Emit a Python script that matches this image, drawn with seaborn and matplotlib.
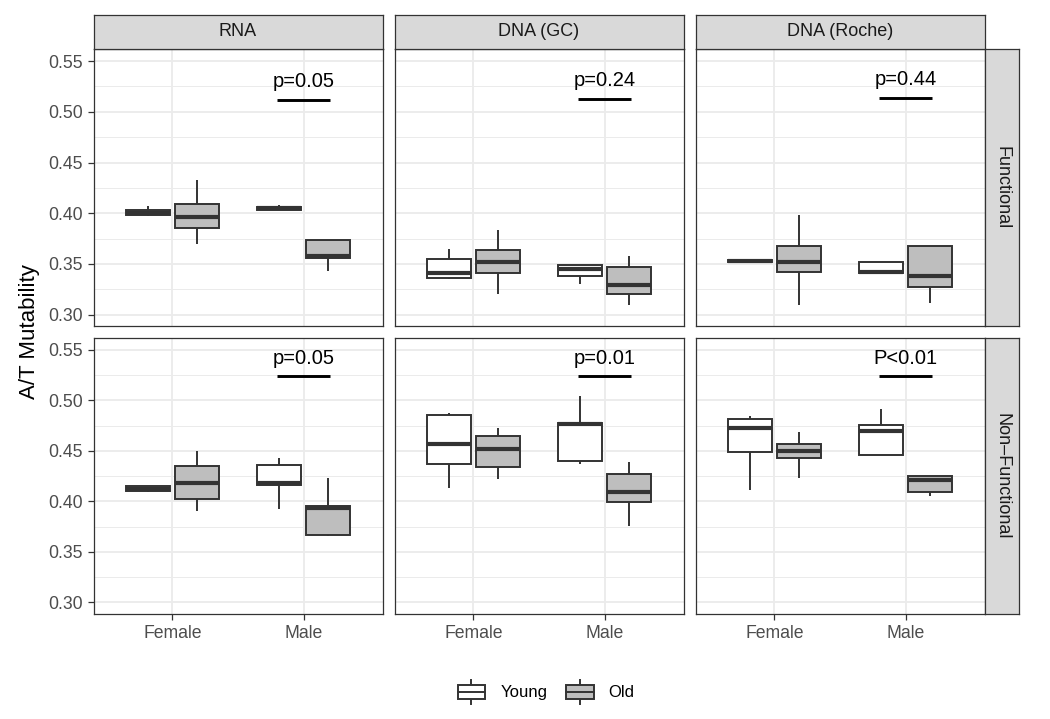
import numpy as np
import pandas as pd
import seaborn as sns
import matplotlib
matplotlib.use("Agg")
import matplotlib.pyplot as plt
from matplotlib.legend_handler import HandlerBase
from matplotlib.patches import Rectangle
from matplotlib.lines import Line2D

plt.rcParams['font.family'] = ['Liberation Sans', 'DejaVu Sans']

# ---------------- data ----------------
sources = ['RNA', 'DNA (GC)', 'DNA (Roche)']
functionality = ['Functional', 'Non–Functional']
sexes = ['Female', 'Male']
ages = ['Young', 'Old']

# five-number summaries (min, q1, median, q3, max)
# group order: Female-Young, Female-Old, Male-Young, Male-Old
rna_functional = [[0.397, 0.398, 0.400, 0.403, 0.407],
                  [0.370, 0.385, 0.3965, 0.409, 0.433],
                  [0.403, 0.403, 0.405, 0.406, 0.408],
                  [0.3425, 0.356, 0.358, 0.374, 0.374]]
dna_gc_functional = [[0.335, 0.3356, 0.341, 0.355, 0.365],
                     [0.3205, 0.3405, 0.352, 0.3635, 0.383],
                     [0.330, 0.338, 0.3445, 0.349, 0.349],
                     [0.309, 0.320, 0.329, 0.347, 0.3576]]
roche_functional = [[0.352, 0.352, 0.353, 0.354, 0.354],
                    [0.3096, 0.3418, 0.352, 0.3675, 0.3978],
                    [0.3405, 0.3405, 0.3415, 0.3517, 0.3517],
                    [0.3116, 0.327, 0.3378, 0.3675, 0.3675]]
rna_nonfunctional = [[0.409, 0.410, 0.4117, 0.415, 0.415],
                     [0.390, 0.4025, 0.4186, 0.4347, 0.4502],
                     [0.3926, 0.4163, 0.4183, 0.436, 0.4426],
                     [0.366, 0.3669, 0.3932, 0.3949, 0.4232]]
dna_gc_nonfunctional = [[0.4133, 0.4367, 0.4568, 0.4858, 0.4877],
                        [0.4225, 0.4337, 0.4519, 0.4647, 0.4722],
                        [0.4373, 0.440, 0.4769, 0.4776, 0.5045],
                        [0.3758, 0.3995, 0.4094, 0.4268, 0.4393]]
roche_nonfunctional = [[0.4107, 0.4492, 0.4722, 0.4811, 0.4845],
                       [0.4232, 0.4426, 0.4495, 0.4568, 0.4687],
                       [0.4456, 0.4456, 0.4693, 0.4752, 0.4914],
                       [0.405, 0.4094, 0.4208, 0.4255, 0.4255]]

p_labels_functional = ['p=0.05', 'p=0.24', 'p=0.44']
p_labels_nonfunctional = ['p=0.05', 'p=0.01', 'P<0.01']
p_y_functional = [0.512, 0.513, 0.514]
p_y_nonfunctional = [0.524, 0.524, 0.524]

y_ticks = [0.30, 0.35, 0.40, 0.45, 0.50, 0.55]
y_minor = [0.325, 0.375, 0.425, 0.475, 0.525]

panel_data = {('Functional', 'RNA'): rna_functional,
              ('Functional', 'DNA (GC)'): dna_gc_functional,
              ('Functional', 'DNA (Roche)'): roche_functional,
              ('Non–Functional', 'RNA'): rna_nonfunctional,
              ('Non–Functional', 'DNA (GC)'): dna_gc_nonfunctional,
              ('Non–Functional', 'DNA (Roche)'): roche_nonfunctional}
p_labels = {'Functional': p_labels_functional, 'Non–Functional': p_labels_nonfunctional}
p_ys = {'Functional': p_y_functional, 'Non–Functional': p_y_nonfunctional}

rows = []
for (fn, src), groups in panel_data.items():
    gi = 0
    for sx in sexes:
        for ag in ages:
            for v in groups[gi]:
                rows.append(dict(func=fn, source=src, sex=sx, age=ag, value=v))
            gi += 1
df = pd.DataFrame(rows)

# ---------------- layout ----------------
W, H = 1050, 719
fig = plt.figure(figsize=(W / 100, H / 100), dpi=100)


def frac(x0, y0, x1, y1):
    return [x0 / W, 1 - y1 / H, (x1 - x0) / W, (y1 - y0) / H]


col_x = [(93.5, 382.5), (394.5, 683.5), (695.5, 984.5)]
row_y = [(49.3, 326.0), (338.0, 613.7)]
ylim = (0.2887, 0.5617)

LINE = '#333333'
palette = {'Young': 'white', 'Old': '#BEBEBE'}

for r, fn in enumerate(functionality):
    for c, src in enumerate(sources):
        (x0, x1), (y0, y1) = col_x[c], row_y[r]
        ax = fig.add_axes(frac(x0, y0, x1, y1))
        sub = df[(df.func == fn) & (df.source == src)]
        sns.boxplot(data=sub, x='sex', y='value', hue='age', order=sexes,
                    hue_order=ages, palette=palette, width=0.75, gap=0.1,
                    whis=(0, 100), linecolor=LINE, linewidth=1.4,
                    showcaps=False, medianprops={'linewidth': 3.0},
                    legend=False, ax=ax)
        ax.set_xlim(-0.6, 1.6)
        ax.set_ylim(*ylim)
        ax.set_xlabel('')
        ax.set_ylabel('')
        ax.set_facecolor('white')
        ax.set_axisbelow(True)
        ax.set_yticks(y_ticks)
        ax.set_yticks(y_minor, minor=True)
        ax.set_xticks([0, 1])
        ax.grid(which='major', color='#EBEBEB', lw=1.3)
        ax.grid(which='minor', axis='y', color='#EBEBEB', lw=0.7)
        for sp in ax.spines.values():
            sp.set_color(LINE)
            sp.set_linewidth(0.9)
        ax.tick_params(which='minor', length=0)
        ax.tick_params(which='major', length=4.3, width=0.9, color=LINE,
                       labelcolor='#4D4D4D', labelsize=12.7, pad=3.5)
        if c == 0:
            ax.set_yticklabels([f'{t:.2f}' for t in y_ticks])
        else:
            ax.tick_params(axis='y', left=False, labelleft=False)
        if r == 1:
            ax.set_xticklabels(sexes)
        else:
            ax.tick_params(axis='x', bottom=False, labelbottom=False)

        # significance bracket
        py = p_ys[fn][c]
        ax.plot([0.8, 1.2], [py, py], color='black', lw=2.1, solid_capstyle='butt')
        ax.annotate(p_labels[fn][c], (1, py), xytext=(0, 6), textcoords='offset points',
                    ha='center', va='bottom', fontsize=14.5, color='black')

        # top strips
        if r == 0:
            sax = fig.add_axes(frac(x0, 14.7, x1, 49.3))
            sax.set_facecolor('#D9D9D9')
            sax.set_xticks([]); sax.set_yticks([])
            for sp in sax.spines.values():
                sp.set_color(LINE); sp.set_linewidth(0.9)
            sax.text(0.5, 0.5, src, ha='center', va='center', fontsize=13,
                     color='#1A1A1A', transform=sax.transAxes)
        # right strips
        if c == 2:
            sax = fig.add_axes(frac(985.0, y0, 1019.0, y1))
            sax.set_facecolor('#D9D9D9')
            sax.set_xticks([]); sax.set_yticks([])
            for sp in sax.spines.values():
                sp.set_color(LINE); sp.set_linewidth(0.9)
            sax.text(0.5, 0.5, fn, ha='center', va='center', fontsize=13,
                     color='#1A1A1A', rotation=-90, transform=sax.transAxes)

fig.text(30 / W, 1 - 331.5 / H, 'A/T Mutability', rotation=90, ha='center',
         va='center', fontsize=16, color='black')


# ---------------- legend ----------------
class BoxKeyHandler(HandlerBase):
    def create_artists(self, legend, orig_handle, xdescent, ydescent, width,
                       height, fontsize, trans):
        fc = orig_handle.get_facecolor()
        x0, y0 = -xdescent, -ydescent
        bh = height * 0.65
        by = y0 + (height - bh) / 2
        xm = x0 + width / 2
        w1 = Line2D([xm, xm], [y0, by], color=LINE, lw=1.4, transform=trans)
        w2 = Line2D([xm, xm], [by + bh, y0 + height], color=LINE, lw=1.4, transform=trans)
        rect = Rectangle((x0, by), width, bh, facecolor=fc, edgecolor=LINE,
                         lw=1.4, transform=trans)
        med = Line2D([x0, x0 + width], [y0 + height / 2] * 2, color=LINE, lw=1.4,
                     transform=trans)
        return [w1, w2, rect, med]


handles = [Rectangle((0, 0), 1, 1, facecolor=palette[a]) for a in ages]
fig.legend(handles, ages, handler_map={Rectangle: BoxKeyHandler()}, loc='center',
           bbox_to_anchor=(546 / W, 1 - 692 / H), ncol=2, frameon=False,
           fontsize=12, handlelength=1.67, handleheight=1.75, handletextpad=0.9,
           columnspacing=1.1)

fig.savefig('out.png', dpi=100, facecolor='white')
